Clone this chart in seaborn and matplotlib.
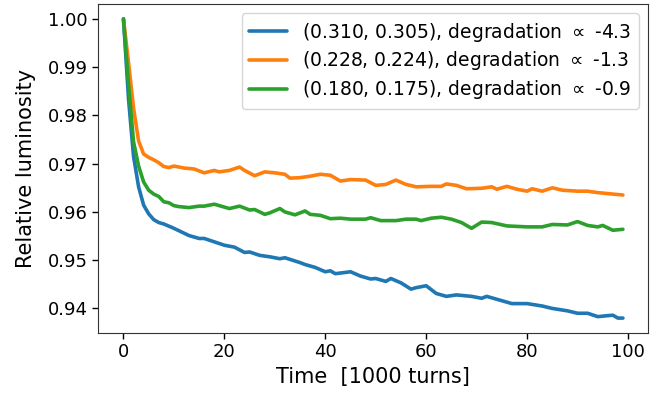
import matplotlib
matplotlib.use("Agg")
import matplotlib.pyplot as plt
import seaborn as sns
import pandas as pd

# Beam conditions (tune point) and fitted degradation slope
labels = [
    r"(0.310, 0.305), degradation $\propto$ -4.3",
    r"(0.228, 0.224), degradation $\propto$ -1.3",
    r"(0.180, 0.175), degradation $\propto$ -0.9",
]

# Time in units of 1000 turns, relative luminosity per configuration
t_blue = [0, 1, 2, 3, 4, 5, 6, 7, 8, 10, 11, 13, 15, 16, 18, 20, 22, 24, 25, 27,
          29, 31, 32, 35, 36, 38, 40, 41, 42, 45, 47, 49, 50, 52, 53, 55, 57, 58,
          60, 62, 64, 66, 69, 71, 72, 75, 77, 80, 83, 85, 88, 90, 92, 94, 97, 98, 99]
lum_blue = [1.000, 0.9835, 0.9715, 0.9652, 0.9614, 0.9596, 0.9584, 0.9578, 0.9575,
            0.9566, 0.9561, 0.9551, 0.9545, 0.9545, 0.9538, 0.9531, 0.9527, 0.9516,
            0.9517, 0.9510, 0.9507, 0.9503, 0.9505, 0.9495, 0.9491, 0.9485, 0.9476,
            0.9478, 0.9472, 0.9476, 0.9467, 0.9461, 0.9462, 0.9456, 0.9462, 0.9453,
            0.9440, 0.9443, 0.9447, 0.9431, 0.9425, 0.9428, 0.9425, 0.9421, 0.9425,
            0.9416, 0.9410, 0.9410, 0.9405, 0.9400, 0.9395, 0.9390, 0.9390, 0.9383,
            0.9386, 0.9380, 0.9380]

t_orange = [0, 1, 2, 3, 4, 5, 6, 7, 8, 9, 10, 12, 14, 16, 18, 19, 21, 23, 24, 26,
            28, 30, 32, 33, 35, 37, 39, 41, 43, 45, 48, 50, 52, 54, 56, 58, 61, 63,
            64, 66, 68, 71, 73, 74, 76, 78, 80, 81, 83, 85, 87, 90, 92, 94, 96, 99]
lum_orange = [1.000, 0.9910, 0.9815, 0.9747, 0.9720, 0.9713, 0.9708, 0.9702, 0.9694,
              0.9692, 0.9695, 0.9691, 0.9689, 0.9681, 0.9686, 0.9683, 0.9686, 0.9693,
              0.9686, 0.9675, 0.9683, 0.9681, 0.9678, 0.9670, 0.9671, 0.9674, 0.9678,
              0.9676, 0.9664, 0.9667, 0.9666, 0.9655, 0.9657, 0.9666, 0.9657, 0.9652,
              0.9653, 0.9653, 0.9658, 0.9655, 0.9648, 0.9649, 0.9652, 0.9647, 0.9653,
              0.9647, 0.9643, 0.9648, 0.9643, 0.9650, 0.9645, 0.9643, 0.9643, 0.9640,
              0.9638, 0.9635]

t_green = [0, 1, 2, 3, 4, 5, 6, 7, 8, 9, 10, 11, 13, 15, 16, 18, 21, 23, 25, 26,
           28, 29, 31, 32, 34, 36, 37, 39, 41, 43, 45, 48, 49, 51, 54, 56, 58, 59,
           61, 63, 65, 67, 68, 69, 71, 73, 76, 80, 83, 85, 88, 90, 92, 94, 95, 97, 99]
lum_green = [1.000, 0.9865, 0.9745, 0.9695, 0.9662, 0.9645, 0.9637, 0.9632, 0.9621,
             0.9619, 0.9613, 0.9611, 0.9609, 0.9612, 0.9612, 0.9616, 0.9607, 0.9612,
             0.9604, 0.9605, 0.9595, 0.9598, 0.9607, 0.9600, 0.9594, 0.9602, 0.9595,
             0.9593, 0.9586, 0.9587, 0.9585, 0.9585, 0.9588, 0.9582, 0.9582, 0.9585,
             0.9585, 0.9582, 0.9587, 0.9589, 0.9585, 0.9578, 0.9572, 0.9566, 0.9579,
             0.9578, 0.9571, 0.9569, 0.9569, 0.9574, 0.9573, 0.9580, 0.9572, 0.9569,
             0.9572, 0.9562, 0.9564]

frames = []
for lab, t, lum in zip(labels, [t_blue, t_orange, t_green],
                       [lum_blue, lum_orange, lum_green]):
    frames.append(pd.DataFrame({"Time": t, "Luminosity": lum, "config": lab}))
df = pd.concat(frames, ignore_index=True)

sns.set_style("ticks")
plt.rcParams.update({
    "font.family": ["DejaVu Sans"],
    "mathtext.fontset": "dejavusans",
    "text.color": "black",
    "axes.labelcolor": "black",
    "xtick.color": "black",
    "ytick.color": "black",
})

fig = plt.figure(figsize=(6.7, 3.96), dpi=100)
ax = fig.add_axes([0.147, 0.159, 0.820, 0.831])

palette = sns.color_palette("tab10", 3)
sns.lineplot(data=df, x="Time", y="Luminosity", hue="config", hue_order=labels,
             palette=palette, linewidth=2.6, errorbar=None, sort=False,
             legend=False, ax=ax)

ax.legend(handles=ax.lines[:3], labels=labels, loc="upper right", fontsize=13.5,
          frameon=True, handlelength=2.0, labelspacing=0.3, borderpad=0.4)

ax.set_xlabel("Time  [1000 turns]", fontsize=15)
ax.set_ylabel("Relative luminosity", fontsize=15, labelpad=9)
ax.tick_params(axis="both", labelsize=13, direction="out", length=4, width=1)
ax.set_xticks([0, 20, 40, 60, 80, 100])
ax.set_yticks([0.94, 0.95, 0.96, 0.97, 0.98, 0.99, 1.00])
ax.yaxis.set_major_formatter(matplotlib.ticker.FormatStrFormatter("%.2f"))
for sp in ax.spines.values():
    sp.set_visible(True)
    sp.set_color("#333333")

fig.savefig("out.png", dpi=100)
